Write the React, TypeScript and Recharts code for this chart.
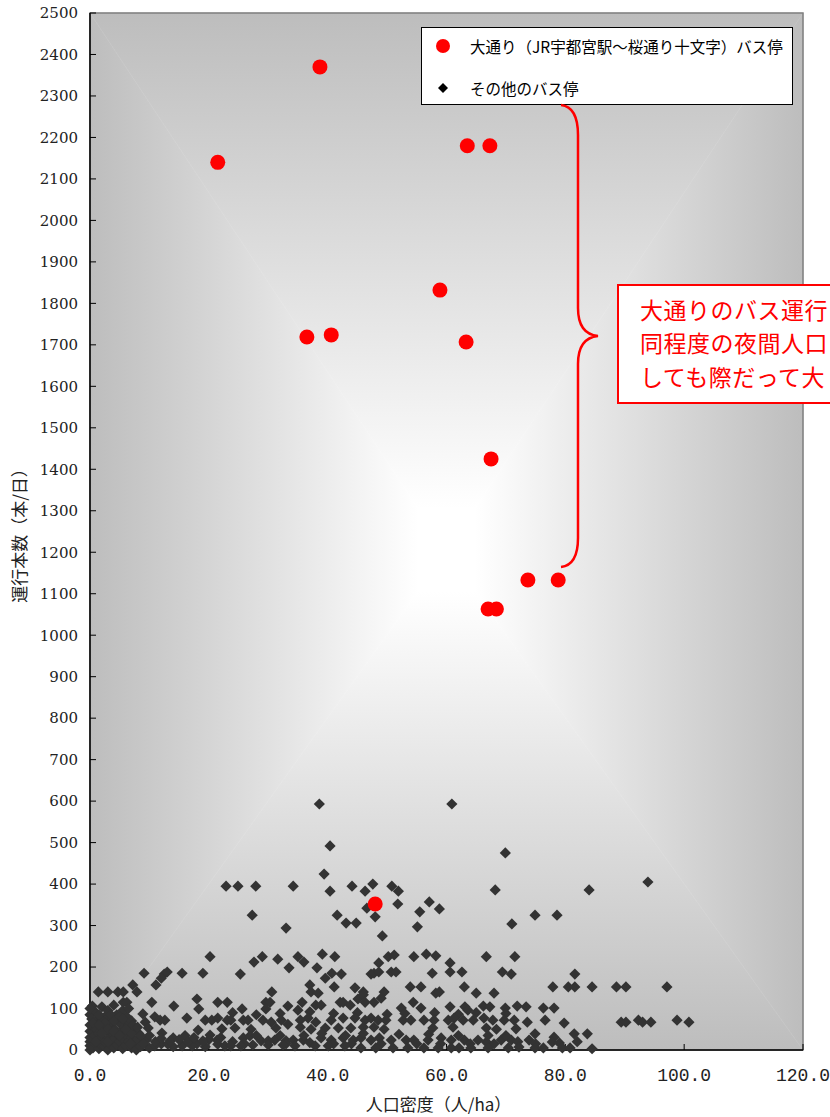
import React from 'react';
import { ScatterChart, Scatter, XAxis, YAxis, Legend } from 'recharts';

const W = 830;
const H = 1117;
// plot area edges (px)
const PL = 90;
const PR = 803;
const PT = 13;
const PB = 1050;

const xTicks = [0, 20, 40, 60, 80, 100, 120];
const yTicks = [
  0, 100, 200, 300, 400, 500, 600, 700, 800, 900, 1000, 1100, 1200, 1300,
  1400, 1500, 1600, 1700, 1800, 1900, 2000, 2100, 2200, 2300, 2400, 2500,
];

const seriesNames = ['大通り（JR宇都宮駅～桜通り十文字）バス停', 'その他のバス停'];

// 大通り沿いのバス停 [人口密度, 運行本数]
const odoriStops: [number, number][] = [
  [21.5, 2140], [38.7, 2370], [63.5, 2180], [67.3, 2180], [58.9, 1832],
  [36.5, 1719], [40.6, 1724], [63.3, 1707], [67.5, 1425], [73.7, 1133],
  [78.8, 1133], [67.0, 1063], [68.4, 1063], [48.0, 352],
];

// その他のバス停 [人口密度, 運行本数]
const otherStops: [number, number][] = [
  [38.6, 593], [60.9, 593], [40.4, 492], [69.9, 475], [39.4, 424],
  [22.9, 395], [24.9, 395], [27.9, 395], [34.2, 395], [44.1, 395], [47.6, 400], [50.8, 395], [93.9, 405],
  [40.4, 383], [46.3, 383], [51.9, 383], [68.2, 386], [84.0, 386],
  [51.8, 352], [57.1, 357], [46.6, 342], [58.8, 340], [55.5, 333],
  [27.3, 325], [41.6, 325], [48.0, 321], [74.9, 325], [78.6, 325],
  [43.1, 306], [44.8, 306], [71.0, 304], [33.0, 294], [55.1, 297], [49.2, 275],
  [20.2, 225], [27.6, 212], [29.0, 225], [31.6, 219], [35.0, 225], [36.0, 212], [39.1, 231],
  [41.2, 225], [50.2, 225], [51.2, 229], [48.6, 210], [54.5, 225], [56.6, 231], [58.2, 227],
  [60.6, 210], [66.7, 225], [71.5, 225], [33.5, 198], [38.2, 198],
  [9.1, 185], [12.5, 183], [13.0, 188], [15.5, 185], [19.0, 185], [12.0, 173], [25.3, 183],
  [39.6, 173], [40.7, 185], [42.3, 183], [47.3, 183], [47.8, 185], [48.6, 188], [50.7, 188],
  [51.5, 188], [57.6, 185], [60.6, 188], [62.6, 188], [69.4, 188], [70.9, 183], [81.6, 183],
  [7.2, 157], [11.1, 157], [37.0, 157], [41.1, 152], [44.6, 150], [53.9, 152], [55.7, 152],
  [63.0, 152], [77.9, 152], [80.5, 152], [81.6, 152], [84.5, 152], [88.6, 152], [90.2, 152], [97.1, 152],
  [1.4, 140], [3.0, 140], [4.7, 140], [5.6, 140], [7.9, 140], [30.6, 140], [37.2, 140], [38.4, 137],
  [46.0, 140], [49.5, 140], [58.2, 137], [58.8, 140], [65.0, 137], [68.0, 137],
  [18.0, 123], [49.0, 125], [45.1, 123], [46.0, 133],
  [10.4, 115], [5.6, 115], [6.2, 115], [21.5, 115], [23.1, 115], [29.6, 115], [30.3, 115],
  [35.7, 115], [42.1, 115], [42.6, 115], [46.3, 115], [47.8, 115], [54.4, 115],
  [0.4, 106], [2.0, 104], [4.0, 108], [14.1, 106], [18.3, 99], [25.6, 99], [29.6, 99], [33.3, 106],
  [35.0, 96], [38.0, 108], [38.9, 108], [43.8, 108], [52.4, 101], [55.7, 101],
  [60.6, 104], [63.1, 104], [63.6, 96], [66.2, 106], [67.3, 104], [69.9, 101], [71.9, 106],
  [73.4, 104], [76.3, 101], [78.1, 101],
  [24.0, 90], [28.0, 85], [32.0, 88], [37.0, 92], [41.0, 88], [45.0, 90], [50.0, 86], [53.0, 88],
  [58.0, 90], [62.0, 86], [65.0, 90], [70.0, 88],
  [1.2, 72], [3.0, 67], [4.5, 72], [5.4, 77], [6.4, 72], [8.9, 87], [9.3, 67], [10.9, 80],
  [11.8, 72], [12.6, 72], [16.3, 77], [19.4, 72], [20.5, 72], [21.5, 77], [23.1, 72], [23.7, 72],
  [25.8, 72], [26.6, 72], [29.1, 72], [30.5, 67], [32.2, 72], [33.3, 62], [35.4, 72], [36.7, 77],
  [38.0, 67], [40.6, 72], [42.6, 77], [44.6, 77], [46.3, 72], [47.3, 77], [48.5, 72], [49.8, 72],
  [52.7, 72], [54.0, 72], [56.2, 72], [57.9, 72], [60.3, 72], [61.3, 77], [62.8, 72], [64.5, 72],
  [66.3, 77], [67.8, 72], [69.7, 72], [71.4, 72], [73.6, 67], [76.6, 72], [79.8, 65],
  [89.4, 67], [90.2, 67], [92.3, 72], [93.0, 67], [94.4, 67], [98.8, 72], [100.8, 67],
  [9.8, 53], [22.2, 51], [18.2, 48], [12.1, 41], [24.4, 53], [27.1, 50], [31.3, 53], [35.4, 55],
  [37.2, 50], [39.6, 53], [41.8, 53], [43.9, 53], [46.0, 55], [47.8, 55], [49.5, 50], [57.7, 53],
  [61.1, 55], [66.7, 53], [68.4, 50], [71.7, 51],
  [14.0, 29], [20.2, 36], [21.4, 24], [25.8, 29], [26.9, 34], [28.8, 22], [31.1, 24], [33.0, 22],
  [34.2, 24], [35.9, 24], [38.9, 29], [40.6, 24], [42.6, 29], [44.3, 24], [45.6, 29], [47.3, 24],
  [48.7, 29], [50.7, 24], [53.2, 24], [54.5, 24], [56.9, 24], [59.1, 29], [60.8, 24], [63.0, 24],
  [65.3, 24], [66.7, 19], [69.2, 24], [70.9, 24], [74.9, 39], [73.9, 24], [81.5, 39], [83.7, 39],
  [78.1, 31], [77.8, 19], [79.0, 17],
  [10.0, 5], [12.0, 15], [14.0, 8], [16.0, 35], [18.0, 15], [20.0, 25], [22.0, 30], [24.0, 20],
  [26.0, 15], [28.0, 35], [30.0, 22], [32.0, 35], [33.0, 15], [36.0, 35], [37.0, 18], [39.0, 40],
  [41.0, 15], [43.0, 35], [44.0, 15], [46.0, 40], [49.0, 15], [52.0, 38], [55.0, 15], [57.0, 38],
  [59.0, 15], [62.0, 35], [64.0, 15], [67.0, 35], [68.0, 15], [70.0, 35], [72.0, 20], [75.0, 15],
  [82.0, 20],
  [8.8, 12], [10.9, 10], [13.1, 14], [15.5, 10], [17.2, 10], [19.4, 8], [21.5, 14], [22.7, 10],
  [23.7, 10], [25.4, 10], [27.4, 12], [30.0, 12], [32.5, 12], [34.5, 10], [37.9, 10], [40.1, 10],
  [42.9, 10], [45.6, 5], [48.1, 5], [51.0, 5], [53.5, 5], [56.2, 5], [58.6, 5], [60.8, 5],
  [62.1, 5], [64.1, 5], [67.0, 5], [70.4, 5], [72.2, 7], [74.9, 5], [76.3, 5], [79.5, 5],
  [80.8, 5], [84.5, 3],
  [0, 0], [0, 10], [0, 20], [0, 30], [0, 45], [0, 60], [0, 85], [0.5, 5], [0.8, 15], [0.8, 35],
  [1.0, 50], [1.2, 25], [1.5, 3], [1.5, 40], [1.8, 12], [2.0, 30], [2.2, 55], [2.5, 8], [2.5, 20],
  [2.8, 45], [3.0, 0], [3.2, 30], [3.4, 60], [3.5, 15], [3.8, 40], [4.0, 5], [4.0, 25], [4.2, 50],
  [4.5, 85], [4.5, 12], [4.8, 35], [5.0, 65], [5.0, 20], [5.2, 45], [5.5, 3], [5.5, 28], [5.8, 55],
  [6.0, 10], [6.0, 38], [6.2, 80], [6.5, 20], [6.5, 60], [6.8, 45], [7.0, 5], [7.0, 30], [7.5, 15],
  [7.5, 50], [8.0, 25], [8.2, 40], [1.0, 90], [2.5, 80], [3.0, 95], [5.5, 95], [7.8, 0], [8.5, 8],
  [9.5, 25], [10.0, 35], [11.0, 20], [12.0, 28], [13.5, 22], [15.0, 25], [16.5, 20], [17.5, 30],
  [19.0, 22], [2.0, 70], [3.8, 75], [0.3, 75],
  [0, 100], [0.5, 65], [1.5, 85], [2.5, 65], [3.0, 50], [3.5, 85],
  [4.0, 70], [5.0, 80], [5.5, 75], [6.5, 100], [7.0, 70],
  [1.0, 20], [2.0, 40], [3.0, 20], [4.0, 45], [5.0, 35], [6.0, 50], [7.0, 40], [1.5, 60],
  [6.8, 15], [7.2, 60], [8.0, 55], [8.5, 35], [9.0, 15],
];

const odoriData = odoriStops.map(([x, y]) => ({ x, y }));
const otherData = otherStops.map(([x, y]) => ({ x, y }));

const JP = '"Noto Sans CJK JP", sans-serif';

const diamondPts = (cx: number, cy: number, h: number) =>
  `${cx},${cy - h} ${cx + h},${cy} ${cx},${cy + h} ${cx - h},${cy}`;

const Diamond = (p: any) => <polygon points={diamondPts(p.cx, p.cy, 5.6)} fill="#333333" />;
const RedDot = (p: any) => <circle cx={p.cx} cy={p.cy} r={7.5} fill="#ff0000" />;

function LegendBox(props: any) {
  const items = [...(props.payload || [])].reverse();
  return (
    <div
      style={{
        width: 372,
        height: 78,
        boxSizing: 'border-box',
        border: '1px solid #000',
        background: '#fff',
        position: 'relative',
        fontFamily: JP,
        fontSize: 15.5,
        color: '#000',
      }}
    >
      {items.map((it: any, i: number) => {
        const cy = i === 0 ? 18 : 60;
        return (
          <div key={it.value} style={{ position: 'absolute', left: 0, top: cy - 12, height: 24, width: 370 }}>
            <svg width={40} height={24} style={{ position: 'absolute', left: 0, top: 0 }}>
              {it.value === seriesNames[0] ? (
                <circle cx={21} cy={12} r={7} fill="#ff0000" />
              ) : (
                <polygon points={diamondPts(21, 12, 5)} fill="#000" />
              )}
            </svg>
            <span style={{ position: 'absolute', left: 48, top: 1, lineHeight: '22px', whiteSpace: 'nowrap' }}>
              {it.value}
            </span>
          </div>
        );
      })}
    </div>
  );
}

function GradStops() {
  return (
    <>
      <stop offset="0" stopColor="#ffffff" />
      <stop offset="0.08" stopColor="#ffffff" />
      <stop offset="1" stopColor="#bdbdbd" />
    </>
  );
}

function Background() {
  const cx = (PL + PR) / 2;
  const cy = (PT + PB) / 2 + 20;
  return (
    <svg width={W} height={H} style={{ position: 'absolute', left: 0, top: 0 }}>
      <defs>
        <linearGradient id="gT" gradientUnits="userSpaceOnUse" x1={0} y1={cy} x2={0} y2={PT}>
          <GradStops />
        </linearGradient>
        <linearGradient id="gB" gradientUnits="userSpaceOnUse" x1={0} y1={cy} x2={0} y2={PB}>
          <GradStops />
        </linearGradient>
        <linearGradient id="gL" gradientUnits="userSpaceOnUse" x1={cx} y1={0} x2={PL} y2={0}>
          <GradStops />
        </linearGradient>
        <linearGradient id="gR" gradientUnits="userSpaceOnUse" x1={cx} y1={0} x2={PR} y2={0}>
          <GradStops />
        </linearGradient>
      </defs>
      <polygon points={`${PL},${PT} ${PR},${PT} ${cx},${cy}`} fill="url(#gT)" stroke="url(#gT)" strokeWidth={0.5} />
      <polygon points={`${PL},${PB} ${PR},${PB} ${cx},${cy}`} fill="url(#gB)" stroke="url(#gB)" strokeWidth={0.5} />
      <polygon points={`${PL},${PT} ${PL},${PB} ${cx},${cy}`} fill="url(#gL)" stroke="url(#gL)" strokeWidth={0.5} />
      <polygon points={`${PR},${PT} ${PR},${PB} ${cx},${cy}`} fill="url(#gR)" stroke="url(#gR)" strokeWidth={0.5} />
      <rect x={PL} y={PT} width={PR - PL} height={PB - PT} fill="none" stroke="#7f7f7f" strokeWidth={1.5} />
    </svg>
  );
}

function Annotation() {
  return (
    <svg width={W} height={H} style={{ position: 'absolute', left: 0, top: 0, pointerEvents: 'none' }}>
      <path
        d="M561,105 Q578,107 578,135 L578,308 Q578,334 598,336 Q578,338 578,364 L578,538 Q578,565 561,567"
        fill="none"
        stroke="#ff0000"
        strokeWidth={2.5}
      />
      <rect x={618} y={285} width={260} height={118} fill="#fff" stroke="#ff0000" strokeWidth={2} />
      <g fontFamily={JP} fontSize={23} fill="#ff0000" letterSpacing={0.5}>
        <text x={640} y={319}>大通りのバス運行</text>
        <text x={640} y={352}>同程度の夜間人口</text>
        <text x={640} y={386}>しても際だって大</text>
      </g>
    </svg>
  );
}

export default function App() {
  return (
    <div style={{ position: 'absolute', left: 0, top: 0, width: W, height: H, background: '#fff', overflow: 'hidden' }}>
      <Background />
      <div style={{ position: 'absolute', left: 0, top: 0 }}>
        <ScatterChart width={W} height={H} margin={{ top: PT, right: W - PR, bottom: 0, left: 0 }}>
          <XAxis
            type="number"
            dataKey="x"
            domain={[0, 120]}
            ticks={xTicks}
            interval={0}
            height={H - PB}
            tickFormatter={(v: number) => v.toFixed(1)}
            tickSize={-6}
            tickMargin={24}
            axisLine={{ stroke: '#000', strokeWidth: 1.5 }}
            tickLine={{ stroke: '#000' }}
            tick={{ fill: '#222', fontSize: 18, fontFamily: '"Liberation Mono", monospace' }}
            label={{
              value: '人口密度（人/ha）',
              position: 'insideBottom',
              offset: 6,
              dx: -8,
              style: { fontFamily: JP, fontSize: 17, fill: '#222' },
            }}
          />
          <YAxis
            type="number"
            dataKey="y"
            domain={[0, 2500]}
            ticks={yTicks}
            interval={0}
            width={PL}
            tickSize={-6}
            tickMargin={18}
            axisLine={{ stroke: '#000', strokeWidth: 1.5 }}
            tickLine={{ stroke: '#000' }}
            tick={{ fill: '#222', fontSize: 15, fontFamily: '"DejaVu Serif", serif' }}
            label={{
              value: '運行本数（本/日）',
              angle: -90,
              position: 'center',
              dx: -25,
              dy: 0,
              style: { fontFamily: JP, fontSize: 17, fill: '#222' },
            }}
          />
          <Legend
            layout="horizontal"
            verticalAlign="middle"
            align="center"
            content={<LegendBox />}
            wrapperStyle={{ left: 421, top: 27, width: 372, height: 78 }}
          />
          <Scatter
            name={seriesNames[1]}
            data={otherData}
            shape={<Diamond />}
            fill="#333333"
            isAnimationActive={false}
          />
          <Scatter
            name={seriesNames[0]}
            data={odoriData}
            shape={<RedDot />}
            fill="#ff0000"
            isAnimationActive={false}
          />
        </ScatterChart>
      </div>
      <Annotation />
    </div>
  );
}
